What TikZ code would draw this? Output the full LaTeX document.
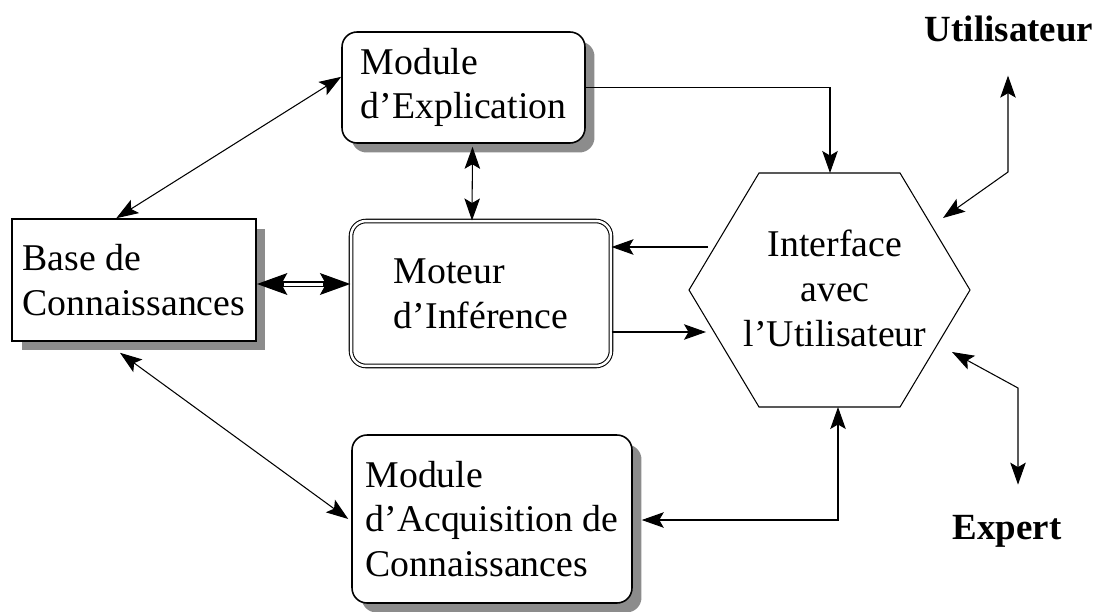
\documentclass[tikz,border=0pt]{standalone}
\usepackage{fontspec}
\setmainfont{Liberation Serif}
\usetikzlibrary{positioning, calc, arrows.meta, shadows}

\begin{document}
\begin{tikzpicture}
[   x=0.02cm, y=-0.02cm,
    font=\fontsize{21.5}{25.5}\selectfont,
    box/.style={draw=black,line width=0.9pt,fill=white,align=left,minimum width=#1},
    sbox/.style={box=#1,drop shadow={shadow xshift=1.9mm,shadow yshift=-1.9mm,fill=black!45,opacity=1}},
    rbox/.style={sbox=#1,rounded corners=3mm},
    label text/.style={font=\fontsize{21}{25}\selectfont\bfseries,anchor=base},
]
\tikzset{both arrow/.style={draw,line width=0.6pt,{Stealth[length=4.4mm,width=3.1mm,inset=0.9mm]}-{Stealth[length=4.4mm,width=3.1mm,inset=0.9mm]}},
         one arrow/.style={draw,line width=0.6pt,-{Stealth[length=4.4mm,width=3.1mm,inset=0.9mm]}},
         dbl arrow/.style={draw,line width=1.05mm,{Stealth[length=6mm,width=4.2mm,inset=1.1mm]}-{Stealth[length=6mm,width=4.2mm,inset=1.1mm]}},
         dbl gap/.style={draw=white,line width=0.6mm,shorten <=5.5mm,shorten >=5.5mm}}
\useasboundingbox (0,0) rectangle (1097,611);

\node[sbox=48.8mm,minimum height=24.4mm] (bc) at (134,280) {Base de\\Connaissances};
\node[rbox=48.6mm,minimum height=22.2mm] (me) at (463.5,87.5) {Module\\d'Explication};
\node[box=52mm,minimum height=29mm,rounded corners=3mm,double,double distance=0.5mm,line width=0.6pt] (mi) at (481,293.5) {Moteur\\d'Inférence};
\node[rbox=56mm,minimum height=33.6mm] (ma) at (492,519) {Module\\d'Acquisition de\\Connaissances};

% interface hexagon
\node[align=center] (iu) at (835,288.5) {Interface\\avec\\l'Utilisateur};
\draw[line width=0.6pt] (759,173) -- (900,173) -- (970,290) -- (900,407) -- (759,407) -- (689,290) -- cycle;
\coordinate (h-t) at (830,173);
\coordinate (h-b) at (838,407);
\coordinate (l-1) at (708,247);
\coordinate (l-2) at (706,332);
\coordinate (h-u) at (943,218);
\coordinate (h-e) at (952,352);

\node[label text] (u) at (1009,42) {Utilisateur};
\node[label text] (ex) at (1007,539) {Expert};
\coordinate (uc) at (1008,172);
\coordinate (ec) at (1018,388);

\path[both arrow] (bc.106) -- (me.175.5);
\path[both arrow] ([shift={(-14,11)}]bc.south) -- ([shift={(-3,0)}]ma.west);
\path[dbl arrow] ([shift={(0,4)}]bc.east) -- ([shift={(0,-9.5)}]mi.west);
\path[dbl gap] ([shift={(0,4)}]bc.east) -- ([shift={(0,-9.5)}]mi.west);
\path[both arrow] ([shift={(9,3)}]me.south) -- ([shift={(-9,0)}]mi.north);
\path[one arrow] (me.east) -| (h-t);
\path[one arrow] (l-1) -- (l-1 -| mi.east);
\path[one arrow] (l-2 -| mi.east) -- (l-2);
\path[both arrow] (h-b) |- ([shift={(9,1)}]ma.east);
\path[both arrow] ([shift={(-1,27)}]u.south) -- (uc) -- (h-u);
\path[both arrow] (h-e) -- (ec) -- ([shift={(11,-24)}]ex.north);
\end{tikzpicture}
\end{document}
